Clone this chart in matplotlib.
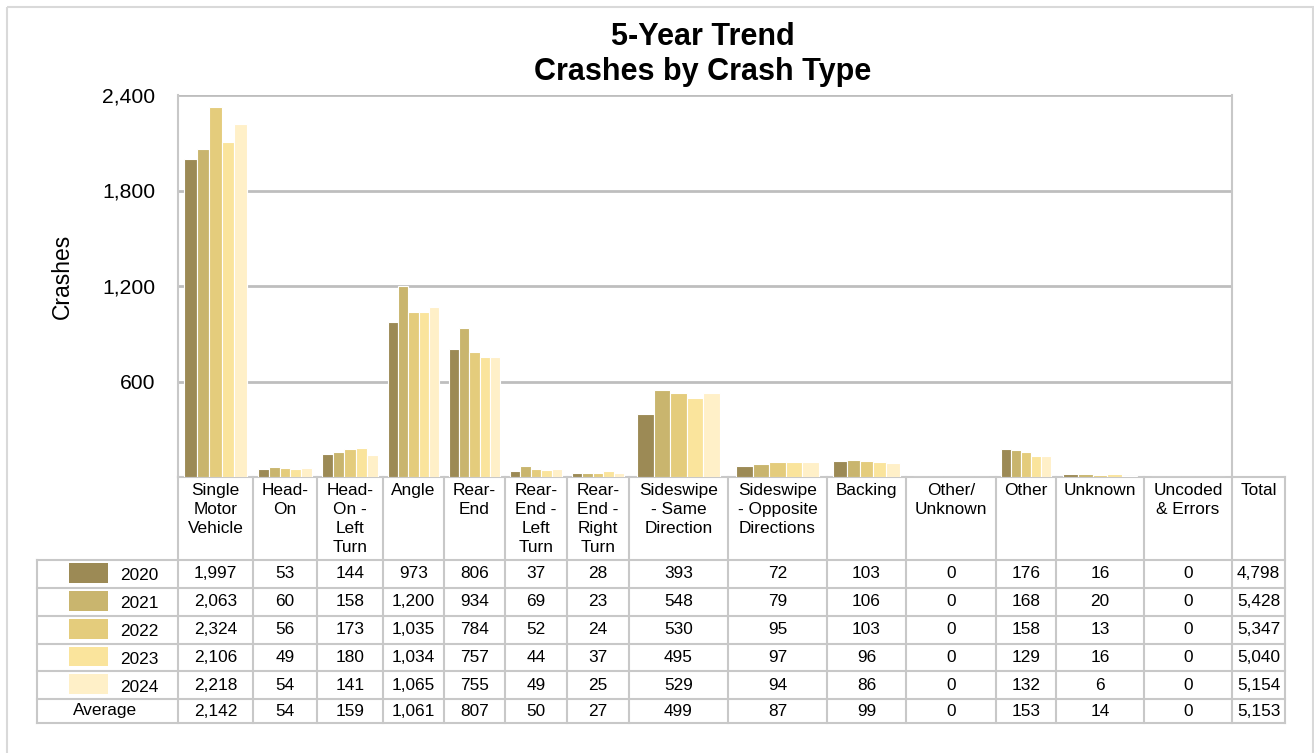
import matplotlib
matplotlib.use("Agg")
import matplotlib.pyplot as plt
from matplotlib.patches import Rectangle
import numpy as np

plt.rcParams['font.family'] = ['Liberation Sans', 'DejaVu Sans']

# ---------------- data ----------------
categories = ["Single\nMotor\nVehicle", "Head-\nOn", "Head-\nOn -\nLeft\nTurn", "Angle",
              "Rear-\nEnd", "Rear-\nEnd -\nLeft\nTurn", "Rear-\nEnd -\nRight\nTurn",
              "Sideswipe\n- Same\nDirection", "Sideswipe\n- Opposite\nDirections",
              "Backing", "Other/\nUnknown", "Other", "Unknown", "Uncoded\n& Errors"]
years = ["2020", "2021", "2022", "2023", "2024"]
v2020 = [1997, 53, 144, 973, 806, 37, 28, 393, 72, 103, 0, 176, 16, 0]
v2021 = [2063, 60, 158, 1200, 934, 69, 23, 548, 79, 106, 0, 168, 20, 0]
v2022 = [2324, 56, 173, 1035, 784, 52, 24, 530, 95, 103, 0, 158, 13, 0]
v2023 = [2106, 49, 180, 1034, 757, 44, 37, 495, 97, 96, 0, 129, 16, 0]
v2024 = [2218, 54, 141, 1065, 755, 49, 25, 529, 94, 86, 0, 132, 6, 0]
average = [2142, 54, 159, 1061, 807, 50, 27, 499, 87, 99, 0, 153, 14, 0]
totals = [4798, 5428, 5347, 5040, 5154]
avg_total = 5153
yticks = [600, 1200, 1800, 2400]

series = [v2020, v2021, v2022, v2023, v2024]
colors = ["#9C8A55", "#C9B56E", "#E4CC7C", "#FAE49C", "#FFF0C8"]

# ---------------- layout (pixels) ----------------
W, H = 1314, 753
col_w = [75, 64, 66, 61, 61, 62, 62, 99, 99, 79, 90, 60, 88, 88]
plot_left, plot_top, plot_bottom = 178, 95, 477
total_col_w = 53
legend_left = 37
row_edges = [560, 588, 616, 644, 671, 699, 723]
line_col = "#C8C8C8"

fig = plt.figure(figsize=(W / 100, H / 100), dpi=100)
plot_w = sum(col_w)
ax = fig.add_axes([plot_left / W, 1 - plot_bottom / H, plot_w / W, (plot_bottom - plot_top) / H])

edges = np.concatenate([[0], np.cumsum(col_w)])
for i, (vals, c) in enumerate(zip(series, colors)):
    for j in range(len(categories)):
        gw = col_w[j] * 0.84
        bw = gw / 5
        x0 = edges[j] + (col_w[j] - gw) / 2 + i * bw
        ax.bar(x0, vals[j], width=bw, align='edge', color=c, edgecolor='white', linewidth=0.8)

ax.set_xlim(0, plot_w)
ax.set_ylim(0, 2400)
ax.set_yticks(yticks)
ax.set_yticklabels([f"{t:,}" for t in yticks], fontsize=15.2)
ax.tick_params(axis='y', length=0, pad=16.5)
ax.set_xticks([])
ax.yaxis.grid(True, color="#BEBEBE", linewidth=2)
ax.set_axisbelow(True)
for s in ['left', 'right']:
    ax.spines[s].set_color(line_col)
    ax.spines[s].set_linewidth(1.5)
ax.spines['top'].set_visible(False)
ax.spines['bottom'].set_visible(False)
ax.patch.set_alpha(0)
fig.text(62 / W, 1 - 276 / H, "Crashes", rotation=90, ha='center', va='center', fontsize=16.5)

# ---------------- overlay for table / title / border ----------------
ov = fig.add_axes([0, 0, 1, 1], zorder=-1)
ov.set_xlim(0, W)
ov.set_ylim(H, 0)
ov.axis('off')

ov.add_patch(Rectangle((7, 7), 1306, 760, fill=False, edgecolor="#D9D9D9", linewidth=1.5))

fig.text(0.535, 1 - 37 / H, "5-Year Trend", ha='center', va='center', fontsize=22, fontweight='bold')
fig.text(0.535, 1 - 72 / H, "Crashes by Crash Type", ha='center', va='center', fontsize=22, fontweight='bold')

px_edges = [plot_left + e for e in edges] + [plot_left + plot_w + total_col_w]
right_edge = px_edges[-1]
lw = 1.5
ov.plot([plot_left, right_edge], [plot_bottom, plot_bottom], color=line_col, lw=lw)
for r in row_edges:
    ov.plot([legend_left, right_edge], [r, r], color=line_col, lw=lw)
for xe in px_edges:
    ov.plot([xe, xe], [plot_bottom, row_edges[-1]], color=line_col, lw=lw)
ov.plot([legend_left, legend_left], [row_edges[0], row_edges[-1]], color=line_col, lw=lw)

fs = 12.4
centers = [(px_edges[k] + px_edges[k + 1]) / 2 for k in range(len(px_edges) - 1)]
headers = categories + ["Total"]
for k, h in enumerate(headers):
    ov.text(centers[k], 483, h, ha='center', va='top', fontsize=fs, linespacing=1.33)

rows = series + [average]
row_tot = totals + [avg_total]
for r, vals in enumerate(rows):
    yc = (row_edges[r] + row_edges[r + 1]) / 2
    for k, v in enumerate(vals + [row_tot[r]]):
        ov.text(centers[k], yc, f"{v:,}", ha='center', va='center', fontsize=fs)
    if r < 5:
        ov.add_patch(Rectangle((69, row_edges[r] + 3), 39, row_edges[r + 1] - row_edges[r] - 8,
                               color=colors[r], linewidth=0))
        ov.text(120, yc + 2, years[r], ha='left', va='center', fontsize=fs)
    else:
        ov.text(105, yc, "Average", ha='center', va='center', fontsize=fs)

fig.savefig("out.png", dpi=100)
